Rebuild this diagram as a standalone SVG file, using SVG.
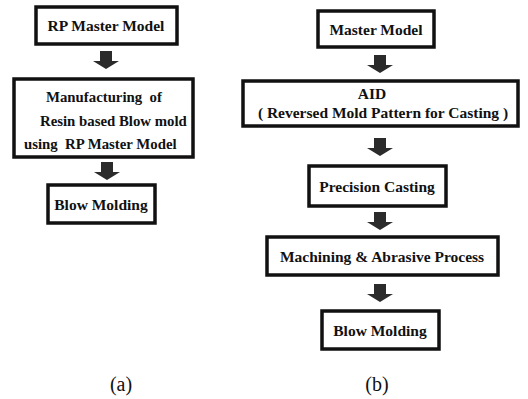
<svg xmlns="http://www.w3.org/2000/svg" width="528" height="399" viewBox="0 0 528 399">
<style>
.box{fill:#fff;stroke:#111;stroke-width:3.5}
.t{font-family:"Liberation Serif","Times New Roman",serif;font-weight:bold;font-size:15.5px;fill:#111}
.s{font-size:14.8px}
.m{text-anchor:middle}
.arr{fill:#2b2b2b}
.lbl{font-family:"Liberation Serif","Times New Roman",serif;font-size:20px;fill:#111;text-anchor:middle}
</style>
<defs>
<path id="ar" d="M-6,0 h12 v10 h7 l-13,8 l-13,-8 h7 z"/>
</defs>
<rect width="528" height="399" fill="#fff"/>
<g id="connectors">
<use href="#ar" class="arr" x="106" y="51"/>
<use href="#ar" class="arr" x="107" y="162"/>
<use href="#ar" class="arr" x="380" y="55"/>
<use href="#ar" class="arr" x="380" y="138"/>
<use href="#ar" class="arr" x="380" y="212"/>
<use href="#ar" class="arr" x="380" y="284"/>
</g>
<g id="a1">
<rect class="box" x="36" y="7" width="141" height="37"/>
<text class="t m" x="106" y="31">RP Master Model</text>
</g>
<g id="a2">
<rect class="box" x="14" y="79" width="179" height="78"/>
<text class="t s" x="46" y="102" xml:space="preserve">Manufacturing  of</text>
<text class="t s" x="40" y="126">Resin based Blow mold</text>
<text class="t s" x="24" y="149" xml:space="preserve">using  RP Master Model</text>
</g>
<g id="a3">
<rect class="box" x="48" y="185" width="107" height="38"/>
<text class="t m" x="101" y="210">Blow Molding</text>
</g>
<g id="b1">
<rect class="box" x="318" y="11" width="116" height="36"/>
<text class="t m" x="376" y="35">Master Model</text>
</g>
<g id="b2">
<rect class="box" x="243" y="81" width="275" height="45"/>
<text class="t m" x="372" y="99">AID</text>
<text class="t m" x="383" y="118">( Reversed Mold Pattern for Casting )</text>
</g>
<g id="b3">
<rect class="box" x="309" y="166" width="137" height="40"/>
<text class="t m" x="377" y="192">Precision Casting</text>
</g>
<g id="b4">
<rect class="box" x="267" y="237" width="231" height="38"/>
<text class="t m" x="382" y="262">Machining &amp; Abrasive Process</text>
</g>
<g id="b5">
<rect class="box" x="322" y="311" width="117" height="38"/>
<text class="t m" x="380" y="336">Blow Molding</text>
</g>
<text class="lbl" x="121" y="391">(a)</text>
<text class="lbl" x="377" y="391">(b)</text>
</svg>
